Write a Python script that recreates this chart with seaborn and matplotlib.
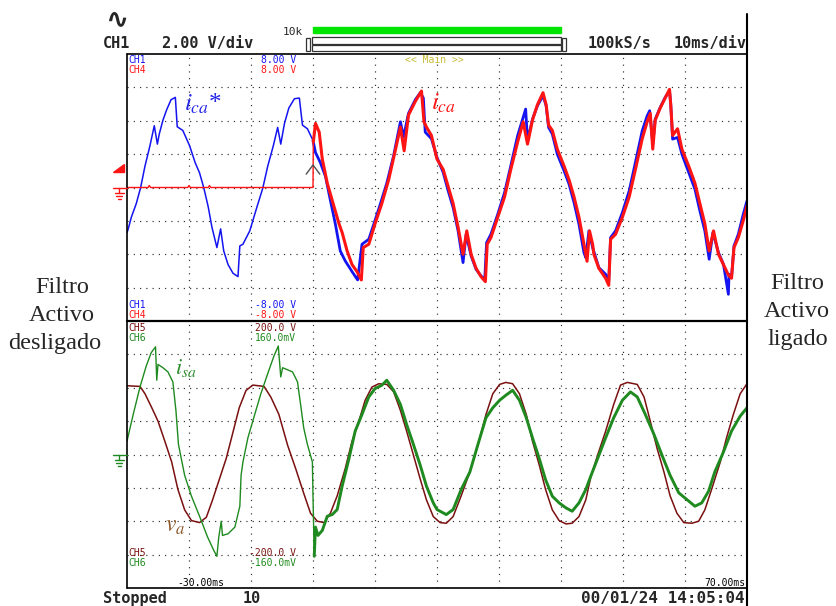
import matplotlib
matplotlib.use("Agg")
import matplotlib.pyplot as plt
from matplotlib.lines import Line2D
from matplotlib.patches import Polygon, Rectangle
import pandas as pd
import seaborn as sns

# ---- data (t in ms) ----
# CH1: reference current i_ca* (V)
ica_ref_t = [-30.0, -29.8, -29.3, -28.5, -27.8, -27.1, -26.3, -25.6, -25.1, -24.8,
             -24.2, -23.6, -22.9, -22.2, -21.9, -21.0, -19.9, -19.0, -18.3, -17.6,
             -16.9, -16.3, -15.5, -14.9, -14.4, -13.7, -12.9, -12.1, -11.8, -11.3,
             -10.2, -9.2, -8.1, -7.3, -6.4, -5.7, -5.2, -4.6, -3.9, -3.0,
             -2.2, -1.7, -0.9, 0.0, 0.4, 1.2, 2.0, 2.8, 3.6, 4.4,
             5.2, 6.3, 7.2, 7.9, 9.0, 10.0, 10.8, 11.9, 13.0, 14.1,
             14.6, 15.4, 16.5, 17.3, 17.8, 18.1, 19.1, 20.0, 21.0, 21.8,
             22.6, 23.4, 24.2, 24.7, 25.5, 26.3, 27.1, 27.7, 28.0, 28.7,
             29.8, 30.9, 31.9, 33.0, 34.3, 34.6, 35.4, 36.2, 37.1, 37.6,
             38.0, 38.6, 39.4, 40.5, 41.3, 42.1, 42.9, 43.7, 44.0, 44.5,
             45.1, 46.1, 47.2, 47.7, 48.0, 48.8, 49.9, 51.0, 52.0, 53.1,
             53.9, 54.3, 54.8, 55.2, 56.0, 56.8, 57.5, 57.7, 58.0, 58.8,
             59.5, 60.6, 61.6, 62.4, 63.2, 63.9, 64.5, 65.4, 66.2, 67.0,
             67.1, 67.5, 67.9, 68.6, 69.4, 70.0]
ica_ref_v = [-2.7, -2.48, -1.78, -0.96, 0.0, 1.28, 2.5, 3.7, 2.6, 3.2,
             4.04, 4.66, 5.26, 5.4, 3.64, 3.42, 2.5, 1.48, 0.88, -0.04,
             -1.16, -2.38, -3.6, -2.48, -3.8, -4.62, -5.14, -5.34, -3.5, -3.4,
             -2.6, -1.36, -0.04, 1.28, 2.5, 3.6, 2.6, 3.84, 4.76, 5.32,
             5.36, 3.74, 3.52, 2.82, 2.1, 1.48, 0.68, -0.76, -2.18, -3.8,
             -4.4, -5.04, -5.54, -3.4, -3.1, -1.98, -1.06, 0.26, 1.9, 3.94,
             3.02, 4.44, 5.26, 5.68, 5.36, 3.32, 2.92, 1.8, 0.9, -0.2,
             -1.2, -2.6, -4.5, -2.8, -4.1, -4.9, -5.3, -5.5, -3.3, -2.8,
             -1.6, -0.3, 1.3, 3.1, 4.7, 2.8, 4.1, 4.9, 5.5, 4.9,
             3.6, 3.2, 2.0, 1.0, 0.2, -0.9, -2.2, -3.9, -4.2, -2.6,
             -3.6, -4.8, -5.2, -5.6, -3.0, -2.6, -1.5, -0.2, 1.5, 3.4,
             4.3, 4.6, 2.6, 4.1, 4.8, 5.4, 5.8, 5.0, 2.9, 3.0,
             2.0, 0.9, -0.1, -1.4, -2.6, -4.3, -2.7, -3.9, -4.6, -6.4,
             -5.2, -5.4, -3.5, -2.8, -1.6, -0.8]

# CH4: compensation current i_ca (V)
ica_t = [-30.0, -26.6, -26.4, -26.2, -20.2, -20.0, -19.8, -16.9, -16.7, -16.5,
         0.0, 0.05, 0.4, 1.0, 1.5, 2.3, 3.4, 4.2, 4.7, 5.5,
         6.3, 7.1, 7.8, 8.1, 9.0, 10.0, 11.1, 12.2, 13.2, 14.1,
         14.7, 15.4, 16.5, 17.5, 17.9, 18.3, 19.1, 20.0, 21.0, 21.8,
         22.6, 23.4, 24.2, 24.8, 25.5, 26.3, 27.1, 27.8, 28.1, 28.7,
         29.8, 30.9, 31.9, 33.0, 33.9, 34.6, 35.4, 36.2, 37.1, 37.6,
         38.0, 38.6, 39.4, 40.5, 41.3, 42.1, 42.9, 43.7, 44.2, 44.6,
         45.1, 45.3, 46.1, 47.2, 47.7, 48.0, 48.8, 49.9, 51.0, 52.0,
         53.1, 53.9, 54.4, 54.8, 55.2, 56.0, 56.8, 57.5, 57.7, 58.0,
         58.8, 59.5, 60.6, 61.6, 62.4, 63.2, 63.9, 64.6, 65.4, 66.2,
         67.0, 67.5, 67.9, 68.6, 69.4, 70.0]
ica_v = [0.0, 0.0, 0.12, 0.0, 0.0, 0.12, 0.0, 0.0, 0.12, 0.0,
         0.0, 2.72, 3.84, 3.32, 1.7, 0.26, -1.16, -2.18, -2.7, -3.8,
         -4.62, -5.04, -5.54, -3.6, -3.4, -2.18, -0.96, 0.46, 2.1, 3.62,
         2.2, 4.34, 5.16, 5.78, 3.94, 3.62, 3.12, 1.7, 1.08, 0.06,
         -0.96, -2.38, -4.0, -2.6, -4.0, -4.84, -5.34, -5.64, -3.4, -3.0,
         -1.78, -0.56, 1.08, 2.72, 3.94, 2.6, 4.04, 4.96, 5.68, 4.96,
         3.74, 3.42, 2.3, 1.28, 0.46, -0.56, -1.78, -3.4, -4.42, -2.6,
         -3.4, -4.0, -4.84, -5.44, -5.86, -3.1, -2.8, -1.78, -0.56, 1.08,
         2.92, 3.94, 4.44, 2.3, 4.04, 4.76, 5.36, 5.88, 4.96, 3.12,
         3.52, 2.3, 1.28, 0.26, -0.96, -2.18, -3.8, -2.6, -4.0, -4.62,
         -5.24, -5.44, -3.6, -3.0, -1.98, -1.1]

# CH5: source voltage v_a (V)
va_t = [-30.0, -27.9, -27.1, -26.0, -25.0, -23.9, -22.8, -21.8, -20.7, -19.6,
        -18.3, -17.2, -16.2, -15.1, -14.0, -13.0, -11.9, -10.8, -9.7, -7.9,
        -6.8, -5.5, -4.1, -2.8, -1.5, -0.4, 0.7, 1.8, 2.8, 3.9,
        5.2, 6.3, 7.4, 8.4, 9.5, 10.6, 11.9, 13.0, 14.1, 15.1,
        16.2, 17.3, 18.3, 19.4, 20.5, 21.5, 22.6, 23.9, 25.3, 26.6,
        27.9, 29.0, 30.1, 31.1, 32.2, 33.3, 34.4, 35.4, 36.5, 37.5,
        38.6, 39.7, 40.8, 41.8, 42.9, 44.0, 44.8, 45.9, 47.2, 48.5,
        49.6, 50.7, 52.3, 53.4, 54.4, 55.5, 56.6, 57.6, 58.7, 59.8,
        61.1, 62.2, 63.2, 64.3, 65.7, 66.7, 67.8, 68.9, 70.0]
va_v = [103, 102, 91, 70, 50, 20, -11, -52, -83, -99,
        -102, -94, -68, -37, -6, 30, 70, 96, 104, 102,
        86, 60, 14, -21, -58, -88, -100, -102, -88, -62,
        -21, 20, 50, 81, 101, 106, 105, 94, 66, 35,
        -1, -37, -68, -93, -102, -103, -93, -62, -26, 14,
        60, 91, 105, 108, 106, 91, 60, 20, -16, -52,
        -83, -99, -104, -103, -93, -68, -34, -1, 35, 75,
        104, 108, 105, 86, 50, 9, -26, -62, -88, -102,
        -103, -100, -83, -52, -11, 25, 60, 91, 106]

# CH6: source current i_sa (mV)
isa_t = [-30.0, -29.0, -27.9, -26.9, -26.1, -25.4, -25.2, -25.0, -24.2, -23.4,
         -22.6, -22.1, -21.7, -20.7, -19.6, -18.3, -17.0, -16.0, -15.5, -15.2,
         -14.8, -14.6, -13.7, -12.6, -11.8, -11.6, -11.3, -10.5, -9.4, -8.4,
         -7.3, -6.3, -5.6, -5.2, -4.9, -3.3, -2.5, -2.0, -1.5, -0.9,
         -0.1, 0.0, 0.2, 0.4, 0.8, 1.5, 2.3, 3.1, 3.9, 4.7,
         5.8, 6.8, 7.9, 9.0, 10.0, 11.1, 11.9, 13.0, 14.1, 15.1,
         16.2, 17.3, 18.3, 19.4, 20.0, 21.5, 22.6, 23.9, 25.3, 26.6,
         27.9, 29.0, 30.1, 31.1, 32.2, 33.3, 34.4, 35.4, 36.5, 37.5,
         38.6, 39.7, 40.8, 41.8, 42.9, 44.0, 44.8, 45.9, 47.2, 48.5,
         49.9, 51.2, 52.3, 53.6, 55.0, 56.3, 57.6, 59.0, 60.3, 61.6,
         62.7, 63.8, 64.8, 66.2, 67.5, 68.9, 70.0]
isa_v = [16, 48, 81, 106, 122, 129, 89, 108, 104, 99,
         87, 52, 12, -25, -50, -74, -99, -115, -122, -99,
         -80, -97, -95, -87, -62, -25, -9, 20, 48, 73,
         97, 118, 130, 93, 104, 99, 87, 60, 32, 12,
         -9, -50, -122, -87, -97, -91, -74, -72, -66, -38,
         -5, 28, 48, 69, 79, 83, 89, 77, 60, 36,
         12, -13, -38, -58, -66, -72, -66, -42, -21, 12,
         44, 56, 65, 71, 77, 65, 44, 20, -5, -30,
         -50, -58, -64, -68, -58, -42, -26, -5, 20, 44,
         65, 75, 69, 48, 24, -1, -25, -46, -54, -62,
         -58, -44, -21, 3, 28, 46, 56]

filter_on = 0.0          # ms, instant the active filter is switched on
t_left, t_right = -30, 70
ch1_range = 8.0          # +/- V (2 V/div)
ch5_range = 200.0        # +/- V
ch6_range = 160.0        # +/- mV

BLUE = "#1414f0"
RED = "#ff1414"
MAROON = "#7a1010"
GREEN = "#1f8a1f"
TXT_BLUE = "#2323e6"
TXT_BROWN = "#8b5a2b"
TXT_GREEN = "#2e8b2e"

sns.set_theme(style="white")
plt.rcParams["mathtext.fontset"] = "stix"
plt.rcParams["font.family"] = ["DejaVu Sans Mono"]

W, H = 837, 606
fig = plt.figure(figsize=(W / 100, H / 100), dpi=100)
fig.patch.set_facecolor("white")


def fx(x):
    return x / W


def fy(y):
    return 1 - y / H


SL, SR, ST, SM, SB = 127, 747, 54, 321, 588
ax_top = fig.add_axes([fx(SL), fy(SM), (SR - SL) / W, (SM - ST) / H])
ax_bot = fig.add_axes([fx(SL), fy(SB), (SR - SL) / W, (SB - SM) / H])
ax_cur = ax_bot.twinx()
ax_cur.set_position([fx(SL), fy(SB), (SR - SL) / W, (SB - SM) / H])

for ax, rng in [(ax_top, ch1_range), (ax_bot, ch5_range), (ax_cur, ch6_range)]:
    ax.set_xlim(t_left, t_right)
    ax.set_ylim(-rng, rng)


def grid(ax, rng):
    for t in range(t_left + 10, t_right, 10):
        ax.axvline(t, color="#2e2e2e", lw=0.85, ls=(0, (1, 4.7)), zorder=0)
    for k in range(1, 8):
        ax.axhline(-rng + k * rng / 4, color="#2e2e2e", lw=0.85, ls=(0, (1, 4.3)), zorder=0)


grid(ax_top, ch1_range)
grid(ax_bot, ch5_range)


def trace(ax, t, v, color, lw, lo=None, hi=None, z=2):
    df = pd.DataFrame({"t": t, "v": v})
    if lo is not None:
        df = df[df.t >= lo]
    if hi is not None:
        df = df[df.t <= hi]
    sns.lineplot(data=df, x="t", y="v", ax=ax, color=color, linewidth=lw,
                 estimator=None, sort=False, legend=False, zorder=z)


trace(ax_top, ica_ref_t, ica_ref_v, BLUE, 1.1, hi=filter_on)
trace(ax_top, ica_ref_t, ica_ref_v, BLUE, 2.0, lo=filter_on)
trace(ax_top, ica_t, ica_v, RED, 1.0, hi=filter_on + 0.05, z=3)
trace(ax_top, ica_t, ica_v, RED, 2.2, lo=filter_on + 0.05, z=3)
trace(ax_bot, va_t, va_v, MAROON, 1.1)
trace(ax_cur, isa_t, isa_v, GREEN, 1.0, hi=filter_on + 0.2)
trace(ax_cur, isa_t, isa_v, GREEN, 2.1, lo=filter_on + 0.2)

# trigger position chevron
ax_top.plot([filter_on - 1.1, filter_on, filter_on + 1.1], [0.8, 1.35, 0.8],
            color="#505050", lw=1.0, zorder=4)

for ax in (ax_top, ax_bot, ax_cur):
    ax.set_axis_off()


def fline(x0, y0, x1, y1, lw=1.2, color="black"):
    fig.add_artist(Line2D([fx(x0), fx(x1)], [fy(y0), fy(y1)],
                          transform=fig.transFigure, color=color, lw=lw))


# screen frame
fline(SL, ST, SR, ST)
fline(SL, ST, SL, SB)
fline(SL, SB, SR, SB)
fline(SL, SM, SR, SM, lw=1.6)
fline(SR, 14, SR, 606, lw=1.5)

# header
fig.text(fx(117), fy(19), "\u223f", fontsize=20, fontweight="bold", ha="center", va="center",
         family="DejaVu Sans")
fig.text(fx(103), fy(48), "CH1", fontsize=11, fontweight="bold", va="baseline")
fig.text(fx(162), fy(48), "2.00 V/div", fontsize=11, fontweight="bold", va="baseline")
fig.text(fx(283), fy(35), "10k", fontsize=8, va="baseline")
fig.text(fx(588), fy(48), "100kS/s", fontsize=11, fontweight="bold", va="baseline")
fig.text(fx(747), fy(48), "10ms/div", fontsize=11, fontweight="bold", va="baseline", ha="right")
fig.add_artist(Rectangle((fx(313), fy(32.5)), (561 - 313) / W, 5.5 / H,
                         transform=fig.transFigure, color="#00e600"))
for y0, y1 in [(37.5, 43.5), (45, 50.5)]:
    fig.add_artist(Rectangle((fx(312), fy(y1)), (561 - 312) / W, (y1 - y0) / H,
                             transform=fig.transFigure, fill=False, ec="#333333", lw=0.9))
for x0 in (306.5, 562.5):
    fig.add_artist(Rectangle((fx(x0), fy(50.5)), 4 / W, 13 / H,
                             transform=fig.transFigure, fill=False, ec="#333333", lw=0.9))

# channel readouts inside the screen
small = dict(fontsize=7, va="baseline")
fig.text(fx(128), fy(63), "CH1", color=BLUE, **small)
fig.text(fx(128), fy(73), "CH4", color=RED, **small)
fig.text(fx(296), fy(63), "8.00 V", color=BLUE, ha="right", **small)
fig.text(fx(296), fy(73), "8.00 V", color=RED, ha="right", **small)
fig.text(fx(405), fy(63), "<< Main >>", color="#c8bc3a", **small)
fig.text(fx(128), fy(308), "CH1", color=BLUE, **small)
fig.text(fx(128), fy(318), "CH4", color=RED, **small)
fig.text(fx(296), fy(308), "-8.00 V", color=BLUE, ha="right", **small)
fig.text(fx(296), fy(318), "-8.00 V", color=RED, ha="right", **small)
fig.text(fx(128), fy(331), "CH5", color=MAROON, **small)
fig.text(fx(128), fy(341), "CH6", color=GREEN, **small)
fig.text(fx(296), fy(331), "200.0 V", color=MAROON, ha="right", **small)
fig.text(fx(296), fy(341), "160.0mV", color=GREEN, ha="right", **small)
fig.text(fx(128), fy(556), "CH5", color=MAROON, **small)
fig.text(fx(128), fy(566), "CH6", color=GREEN, **small)
fig.text(fx(296), fy(556), "-200.0 V", color=MAROON, ha="right", **small)
fig.text(fx(296), fy(566), "-160.0mV", color=GREEN, ha="right", **small)
fig.text(fx(224), fy(586), "-30.00ms", color="black", ha="right", **small)
fig.text(fx(745), fy(586), "70.00ms", color="black", ha="right", **small)

# status line
fig.text(fx(103), fy(603), "Stopped", fontsize=11, fontweight="bold", va="baseline")
fig.text(fx(243), fy(603), "10", fontsize=11, fontweight="bold", va="baseline")
fig.text(fx(745), fy(603), "00/01/24 14:05:04", fontsize=11.5, fontweight="bold",
         va="baseline", ha="right")

# left-side markers: trigger level and channel zero levels
fig.add_artist(Polygon([(fx(113), fy(172)), (fx(124), fy(172)), (fx(124), fy(164))],
                       closed=True, transform=fig.transFigure, color=RED))


def ground(y, color):
    fline(113, y, SL, y, lw=1.0, color=color)
    fline(119.5, y, 119.5, y + 5, lw=1.0, color=color)
    fline(115, y + 5, 124, y + 5, lw=1.0, color=color)
    fline(116.5, y + 8, 122.5, y + 8, lw=1.0, color=color)
    fline(118, y + 11, 121, y + 11, lw=1.0, color=color)


ground(187.5, RED)
ground(454.5, GREEN)

# waveform labels
fig.text(fx(184), fy(111), r"$i_{ca}$*", color=TXT_BLUE, fontsize=18,
         family="Liberation Serif", va="baseline")
fig.text(fx(431), fy(110), r"$i_{ca}$", color=RED, fontsize=18,
         family="Liberation Serif", va="baseline")
fig.text(fx(175), fy(374), r"$i_{sa}$", color=TXT_GREEN, fontsize=16,
         family="Liberation Serif", va="baseline")
fig.text(fx(165), fy(532), r"$v_{a}$", color=TXT_BROWN, fontsize=17,
         family="Liberation Serif", va="baseline")

# side annotations
serif = dict(fontsize=17.5, family="Liberation Serif", ha="center", va="baseline")
for s, x, y in [("Filtro", 62, 293), ("Activo", 62, 321), ("desligado", 55, 349)]:
    fig.text(fx(x), fy(y), s, **serif)
for s, x, y in [("Filtro", 797, 289), ("Activo", 797, 317), ("ligado", 798, 345)]:
    fig.text(fx(x), fy(y), s, **serif)

fig.savefig("out.png", dpi=100, facecolor="white")
